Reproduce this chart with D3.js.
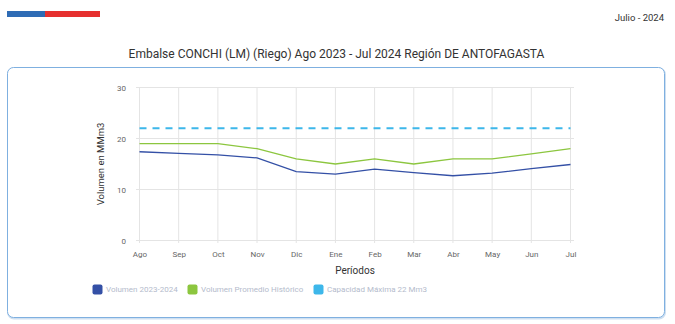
<!DOCTYPE html>
<html><head><meta charset="utf-8">
<script src="https://cdn.jsdelivr.net/npm/d3@7"></script>
<style>
html,body{margin:0;padding:0;background:#fff;}
svg{display:block;font-family:Roboto, "Liberation Sans", Arial, sans-serif;}
</style></head>
<body><svg id="c" width="675" height="324"></svg>
<script>
const months = ["Ago","Sep","Oct","Nov","Dic","Ene","Feb","Mar","Abr","May","Jun","Jul"];
const volumen = [17.4,17.1,16.8,16.2,13.5,13.0,14.0,13.3,12.7,13.2,14.1,14.9];
const promedio = [19,19,19,18,16,15,16,15,16,16,17,18];
const capacidad = [22,22,22,22,22,22,22,22,22,22,22,22];
const yTicks = [0,10,20,30];
const seriesNames = ["Volumen 2023-2024","Volumen Promedio Histórico","Capacidad Máxima 22 Mm3"];
const colors = ["#3450a6","#8cc63f","#3db7ea"];

const svg = d3.select("#c");
// flag bar
svg.append("rect").attr("x",7).attr("y",11).attr("width",38).attr("height",6).attr("fill","#2f6cb5");
svg.append("rect").attr("x",45).attr("y",11).attr("width",55).attr("height",6).attr("fill","#e6302f");
svg.append("text").attr("x",664).attr("y",20.5).attr("text-anchor","end").attr("font-size",9.5).attr("fill","#333").text("Julio - 2024");
svg.append("text").attr("x",336.5).attr("y",57.5).attr("text-anchor","middle").attr("font-size",12).attr("fill","#333")
  .text("Embalse CONCHI (LM) (Riego) Ago 2023 - Jul 2024 Región DE ANTOFAGASTA");
// card
svg.append("rect").attr("x",8).attr("y",68.5).attr("width",657).attr("height",250).attr("rx",6).attr("fill","none").attr("stroke","#cfe0f1").attr("stroke-width",2);
svg.append("rect").attr("x",7.5).attr("y",67.5).attr("width",657).attr("height",250).attr("rx",6).attr("fill","#fff").attr("stroke","#7fb0e0").attr("stroke-width",1);

const x = d3.scalePoint().domain(months).range([139.5,570.5]);
const y = d3.scaleLinear().domain([0,30]).range([240.5,87.5]);

const g = svg.append("g");
// grid
g.selectAll(".hg").data(yTicks).join("line").attr("x1",136).attr("x2",574).attr("y1",d=>y(d)).attr("y2",d=>y(d)).attr("stroke","#e4e4e4").attr("stroke-width",1);
g.selectAll(".vg").data(months).join("line").attr("x1",d=>x(d)).attr("x2",d=>x(d)).attr("y1",87.5).attr("y2",243).attr("stroke","#e4e4e4").attr("stroke-width",1);
// axes labels via d3 axes
const ya = svg.append("g").attr("transform","translate(132,0)").call(d3.axisLeft(y).tickValues(yTicks).tickSize(0).tickPadding(0));
ya.select(".domain").remove();
ya.selectAll("text").attr("font-size",8).attr("fill","#666").attr("font-family","Roboto, sans-serif").attr("x",-6);
const xa = svg.append("g").attr("transform","translate(0,246)").call(d3.axisBottom(x).tickSize(0).tickPadding(0));
xa.select(".domain").remove();
xa.selectAll("text").attr("font-size",8).attr("fill","#666").attr("font-family","Roboto, sans-serif").attr("dy","0.71em").attr("y",5);

svg.append("text").attr("transform","translate(104,164) rotate(-90)").attr("text-anchor","middle").attr("font-size",9.5).attr("fill","#333").text("Volumen en MMm3");
svg.append("text").attr("x",355).attr("y",273.5).attr("text-anchor","middle").attr("font-size",10).attr("fill","#333").text("Períodos");

const line = d3.line().x((d,i)=>x(months[i])).y(d=>y(d));
svg.append("path").datum(capacidad).attr("d",line).attr("fill","none").attr("stroke",colors[2]).attr("stroke-width",2).attr("stroke-dasharray","7,6");
svg.append("path").datum(promedio).attr("d",line).attr("fill","none").attr("stroke",colors[1]).attr("stroke-width",1.3);
svg.append("path").datum(volumen).attr("d",line).attr("fill","none").attr("stroke",colors[0]).attr("stroke-width",1.3);

// legend
const legX = [92.5,187.5,313.5];
const lg = svg.append("g");
seriesNames.forEach((n,i)=>{
  lg.append("rect").attr("x",legX[i]).attr("y",284.5).attr("width",10).attr("height",10).attr("rx",2).attr("fill",colors[i]);
  lg.append("text").attr("x",legX[i]+13.5).attr("y",292.3).attr("font-size",8).attr("fill","#b4bbcc").text(n);
});
</script></body></html>
